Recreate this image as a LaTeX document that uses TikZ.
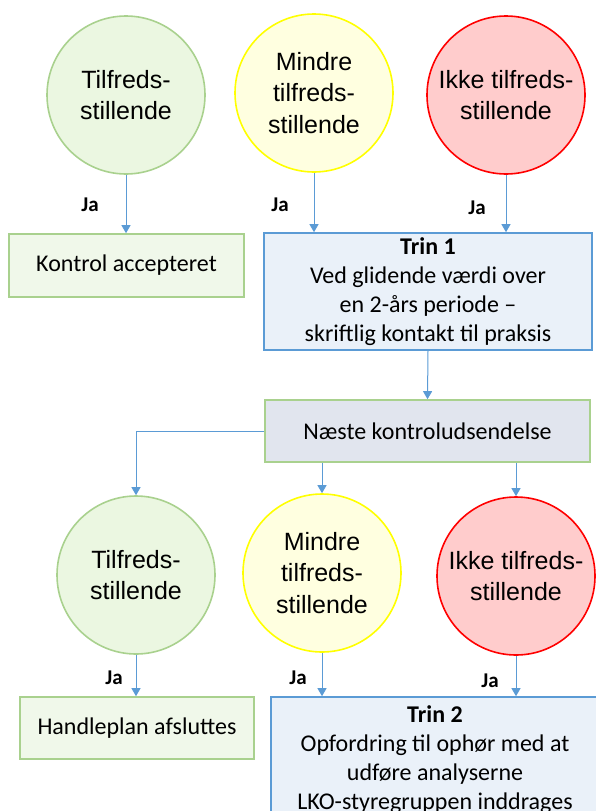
\documentclass[tikz,border=0pt]{standalone}
\usepackage{fontspec}
\setmainfont{Carlito}
\newfontfamily\circfont{Liberation Sans}
\usetikzlibrary{arrows.meta}
\definecolor{grnline}{HTML}{A9D18E}
\definecolor{grnfill}{HTML}{EBF7E1}
\definecolor{ylwline}{HTML}{FFFF00}
\definecolor{ylwfill}{HTML}{FFFFE0}
\definecolor{redline}{HTML}{FF0000}
\definecolor{redfill}{HTML}{FFCCCC}
\definecolor{bluline}{HTML}{5B9BD5}
\definecolor{blufill}{HTML}{EAF1F9}
\definecolor{boxfill}{HTML}{F0F8EA}
\definecolor{gryfill}{HTML}{E1E5EE}
\tikzset{
	state/.style={circle, minimum size=158pt, inner sep=0pt, line width=1.6pt,
		align=center, font=\circfont\fontsize{25}{31.5}\selectfont},
	good/.style={state, draw=grnline, fill=grnfill},
	less/.style={state, draw=ylwline, fill=ylwfill},
	bad/.style={state, draw=redline, fill=redfill},
	box/.style={rectangle, inner sep=0pt, line width=1.6pt, align=center,
		font=\fontsize{24}{29}\selectfont},
	okbox/.style={box, draw=grnline, fill=boxfill},
	stepbox/.style={box, draw=bluline, fill=blufill},
	nextbox/.style={box, draw=grnline, fill=gryfill},
	ja/.style={font=\bfseries\fontsize{21}{25}\selectfont, inner sep=0pt},
	flow/.style={draw=bluline, line width=1pt, -{Triangle[width=9pt,length=8pt]}}
}
\begin{document}
\begin{tikzpicture}[x=1pt,y=-1pt]
		\useasboundingbox (0,0) rectangle (596,811);
		\clip (0,0) rectangle (596,811);
		\node[good] (c1) at (126,95) {Tilfreds-\\stillende};
		\node[less] (c2) at (314,93) {Mindre\\tilfreds-\\stillende};
		\node[bad] (c3) at (506,95) {Ikke tilfreds-\\stillende};
		\node[okbox, minimum width=235pt, minimum height=63pt] (b1) at (126.5,265.5)
			{Kontrol accepteret};
		\node[stepbox, minimum width=328pt, minimum height=117pt] (t1) at (428,291.5)
			{\textbf{Trin 1}\\Ved glidende værdi over\\en 2-års periode –\\skriftlig kontakt til praksis};
		\node[nextbox, minimum width=325pt, minimum height=62pt] (n1) at (427.5,431)
			{Næste kontroludsendelse};
		\node[good] (d1) at (136,575) {Tilfreds-\\stillende};
		\node[less] (d2) at (322,573) {Mindre\\tilfreds-\\stillende};
		\node[bad] (d3) at (516,576) {Ikke tilfreds-\\stillende};
		\node[okbox, minimum width=234pt, minimum height=62pt] (h1) at (137,728)
			{Handleplan afsluttes};
		\node[stepbox, minimum width=328pt, minimum height=126pt] (t2) at (435,760)
			{\textbf{Trin 2}\\Opfordring til ophør med at\\udføre analyserne\\LKO-styregruppen inddrages};
		\draw[flow] (c1.south) -- (c1.south |- b1.north);
		\draw[flow] (c2.south) -- (c2.south |- t1.north);
		\draw[flow] (c3.south) -- (c3.south |- t1.north);
		\draw[flow] (t1.south) -- (n1.north);
		\draw[flow] (n1.west) -| (d1.north);
		\draw[flow] (n1.south -| d2.north) -- (d2.north);
		\draw[flow] (n1.south -| d3.north) -- (d3.north);
		\draw[flow] (d1.south) -- (d1.south |- h1.north);
		\draw[flow] (d2.south) -- (d2.south |- t2.north);
		\draw[flow] (d3.south) -- (d3.south |- t2.north);
		\node[ja] (j1) at (90,205) {Ja};
		\node[ja] (j2) at (280,205) {Ja};
		\node[ja] (j3) at (477,208) {Ja};
		\node[ja] (j4) at (114,678) {Ja};
		\node[ja] (j5) at (298,678) {Ja};
		\node[ja] (j6) at (490,681) {Ja};
	\end{tikzpicture}
\end{document}
